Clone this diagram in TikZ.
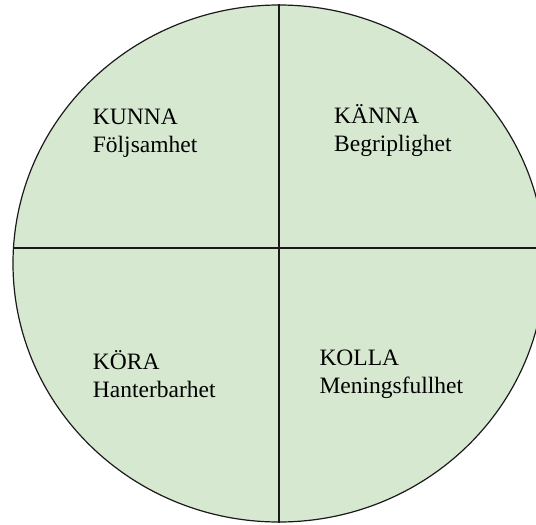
\documentclass[tikz,border=0pt]{standalone}
\usepackage{fontspec}
\setmainfont{Liberation Serif}
\usetikzlibrary{positioning,shapes.geometric}
\definecolor{sage}{HTML}{D7E8D1}
\definecolor{ink}{HTML}{1A1A1A}

\begin{document}
\begin{tikzpicture}[x=1pt, y=-1pt,
        quadLabel/.style={anchor=base west, inner sep=0pt, align=left, font=\fontsize{23.5}{28}\selectfont},
        dividerStyle/.style={line width=1.8pt, draw=ink}
    ]
        \useasboundingbox (0,0) rectangle (536,525);
        \clip (0,0) rectangle (536,525);

        % Wheel
        \node[ellipse, draw=ink, line width=1.2pt, fill=sage, minimum width=532pt, minimum height=517pt, inner sep=0pt] (wheel) at (279,263.5) {};

        % Dividers
        \coordinate (midL) at (13.5,248);
        \coordinate (midR) at (544.5,248);
        \draw[dividerStyle] (wheel.north) -- (wheel.south);
        \draw[dividerStyle] (midL) -- (midR);

        % Quadrants (base = last line)
        \node[quadLabel] (kunna) at (92.7,152) {KUNNA\\Följsamhet};
        \node[quadLabel] (kanna) at (334,151) {KÄNNA\\Begriplighet};
        \node[quadLabel] (kora) at (92.7,397) {KÖRA\\Hanterbarhet};
        \node[quadLabel] (kolla) at (319.3,393) {KOLLA\\Meningsfullhet};
    \end{tikzpicture}
\end{document}
